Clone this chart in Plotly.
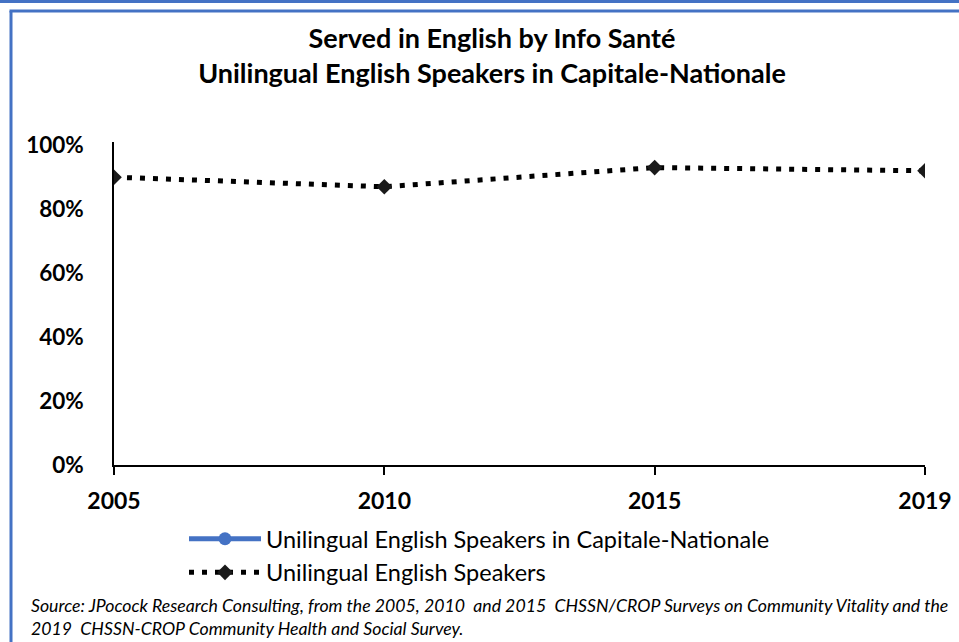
import plotly.graph_objects as go

# Survey years and share served in English by Info Santé
years = ["2005", "2010", "2015", "2019"]
capitale_nationale = [None, None, None, None]
all_unilingual = [0.90, 0.87, 0.93, 0.92]

title_lines = ["Served in English by Info Santé",
               "Unilingual English Speakers in Capitale-Nationale"]
source_lines = [
    "Source: JPocock Research Consulting, from the 2005, 2010  and 2015  CHSSN/CROP Surveys on Community Vitality and the",
    "2019  CHSSN-CROP Community Health and Social Survey.",
]

W, H = 959, 642
L, R, T, B = 114, 925, 142, 465
FONT = "Lato, 'Open Sans', sans-serif"
FRAME = "#4472C4"


def px_x(px):
    return (px - L) / (R - L)


def px_y(py):
    return (B - py) / (B - T)


fig = go.Figure()
fig.add_trace(go.Scatter(
    x=years, y=capitale_nationale, mode="lines+markers",
    name="Unilingual English Speakers in Capitale-Nationale",
    line=dict(color="#4472C4", width=5),
    marker=dict(symbol="circle", size=13, color="#4472C4"),
))
fig.add_trace(go.Scatter(
    x=years, y=all_unilingual, mode="lines+markers",
    name="Unilingual English Speakers",
    line=dict(color="black", width=5, dash="5px,8px"),
    marker=dict(symbol="diamond", size=12, color="#1a1a1a"),
))

# page frame lines
shapes = [
    dict(type="line", xref="paper", yref="paper",
         x0=px_x(0), x1=px_x(W), y0=px_y(1.5), y1=px_y(1.5),
         line=dict(color=FRAME, width=3)),
    dict(type="line", xref="paper", yref="paper",
         x0=px_x(9.5), x1=px_x(W), y0=px_y(11), y1=px_y(11),
         line=dict(color=FRAME, width=3)),
    dict(type="line", xref="paper", yref="paper",
         x0=px_x(11), x1=px_x(11), y0=px_y(11), y1=px_y(H),
         line=dict(color=FRAME, width=3)),
]

fig.update_layout(
    width=W, height=H,
    margin=dict(l=L, r=W - R, t=T, b=H - B, autoexpand=False),
    paper_bgcolor="white", plot_bgcolor="white",
    font=dict(family=FONT, color="black"),
    title=dict(
        text="<b>" + "<br>".join(title_lines) + "</b>",
        x=492 / W, xref="container", xanchor="center",
        y=1 - 48 / H, yref="container", yanchor="top",
        font=dict(size=27, family=FONT, color="black"),
    ),
    shapes=shapes,
    showlegend=True,
    legend=dict(
        xref="container", yref="container",
        x=184 / W, xanchor="left", y=1 - 517 / H, yanchor="top",
        font=dict(size=23.5, family=FONT, color="black"),
        bgcolor="rgba(0,0,0,0)", tracegroupgap=0, itemwidth=72,
    ),
    annotations=[dict(
        xref="paper", yref="paper",
        x=px_x(29), y=px_y(593), xanchor="left", yanchor="top",
        text="<i>" + "<br>".join(source_lines) + "</i>",
        showarrow=False, align="left",
        font=dict(size=17.7, family=FONT, color="black"),
    )],
)

fig.update_xaxes(
    type="category", range=[0, 3],
    showline=True, linecolor="black", linewidth=2,
    ticks="outside", ticklen=8, tickcolor="black", tickwidth=2,
    showgrid=False, zeroline=False, tickangle=0, ticklabelstandoff=6,
    tickfont=dict(size=23, family=FONT, color="black", weight="bold"),
)
fig.update_yaxes(
    range=[0, 1.01], tickvals=[0, 0.2, 0.4, 0.6, 0.8, 1.0], tickformat=".0%",
    showline=True, linecolor="black", linewidth=1.5,
    ticks="", showgrid=False, zeroline=False, ticklabelstandoff=24,
    tickfont=dict(size=22.5, family=FONT, color="black", weight="bold"),
)

fig.write_html("out.html")
